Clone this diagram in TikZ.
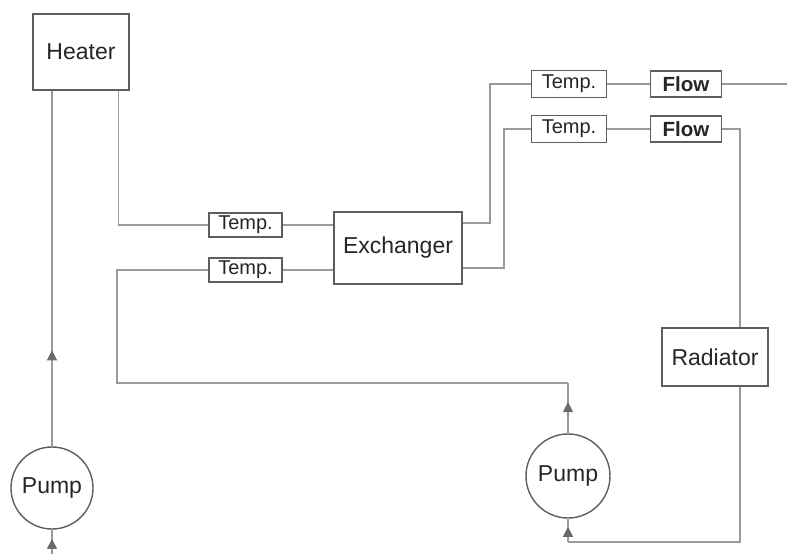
\documentclass[tikz,border=0pt]{standalone}
\usepackage{fontspec}
\setmainfont{Liberation Sans}
\definecolor{pipegray}{HTML}{9A9A9A}
\definecolor{edgegray}{HTML}{5E5E5E}
\definecolor{inkgray}{HTML}{262626}
\definecolor{tipgray}{HTML}{6A6A6A}
\usetikzlibrary{arrows.meta,decorations.markings}
\tikzset{
  unit/.style={draw=edgegray,line width=1.4pt,fill=white,text=inkgray,align=center,
               inner sep=2pt,font=\fontsize{23}{27}\selectfont},
  sensor/.style={unit,line width=1.3pt,minimum width=73pt,minimum height=24pt,
                 font=\fontsize{20}{24}\selectfont},
  meter/.style={sensor,minimum width=71pt,minimum height=26pt,
                font=\fontsize{20.5}{24}\selectfont\bfseries},
  pumpc/.style={unit,circle,minimum size=82pt,inner sep=0pt},
  pipe/.style={draw=pipegray,line width=1.3pt},
  midarr/.style={postaction={decorate},decoration={markings,
     mark=at position #1 with {\arrow[tipgray]{Triangle[length=10pt,width=10pt]}}}}
}

\begin{document}
\begin{tikzpicture}[x=1pt,y=-1pt]
    \useasboundingbox (0,0) rectangle (787,554);
    \node[unit,minimum width=96pt,minimum height=76pt] (heater) at (81,52)  {Heater};
    \node[pumpc]  (pump1) at (52,488)  {Pump};
    \node[sensor] (temp1) at (245.5,225) {Temp.};
    \node[sensor] (temp2) at (245.5,270) {Temp.};
    \node[unit,minimum width=128pt,minimum height=72pt] (exch) at (398,248) {Exchanger};
    \node[sensor,minimum width=75pt,minimum height=27pt] (temp3) at (569,84)  {Temp.};
    \node[meter]  (flow1) at (686,84)  {Flow};
    \node[sensor,minimum width=75pt,minimum height=27pt] (temp4) at (569,129) {Temp.};
    \node[meter]  (flow2) at (686,129) {Flow};
    \node[unit,minimum width=106pt,minimum height=58pt] (rad) at (715,357) {Radiator};
    \node[pumpc,minimum size=84pt] (pump2) at (568,476) {Pump};
    \coordinate (in1)  at (52,554);
    \coordinate (out1) at (787,84);
    \coordinate (up1)  at (490,84);
    \coordinate (up2)  at (504,129);
    \coordinate (ret1) at (117,383);
    \coordinate (ret2) at (568,542);
    \draw[pipe,midarr=0.62] (in1) -- (pump1.south);
    \draw[pipe,midarr=0.27] (pump1.north) -- (heater.south -| pump1.north);
    \draw[pipe] ([xshift=-11pt]heater.south east) |- (temp1.west);
    \draw[pipe] (temp1.east) -- (exch.west |- temp1.east);
    \draw[pipe] (temp2.east) -- (exch.west |- temp2.east);
    \draw[pipe] ([yshift=25pt]exch.east) -| (up1) -- (temp3.west);
    \draw[pipe] ([yshift=-20pt]exch.east) -| (up2) -- (temp4.west);
    \draw[pipe] (temp3.east) -- (flow1.west);
    \draw[pipe] (flow1.east) -- (out1);
    \draw[pipe] (temp4.east) -- (flow2.west);
    \draw[pipe] (flow2.east) -| ([xshift=25pt]rad.north);
    \draw[pipe] ([xshift=25pt]rad.south) |- (ret2);
    \draw[pipe,midarr=0.65] (ret2) -- (pump2.south);
    \draw[pipe,midarr=0.62] (pump2.north) -- (pump2.north |- ret1);
    \draw[pipe] (pump2.north |- ret1) -- (ret1) |- (temp2.west);
\end{tikzpicture}
\end{document}
